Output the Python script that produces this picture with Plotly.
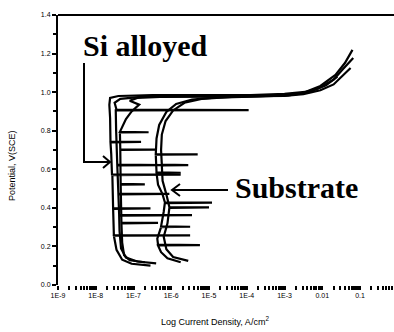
import numpy as np
import plotly.graph_objects as go

# ---- data: log10 current density (A/cm2) and potential (V vs SCE) ----
si1_logi = [-6.55, -7.05, -7.30, -7.45, -7.50, -7.52, -5.50, -7.52, -7.54, -6.55, -7.54, -7.56, -5.75,
            -7.57, -7.59, -7.61, -6.80, -7.61, -7.62, -7.64, -7.62, -7.40, -6.50, -5.20, -3.90, -3.00,
            -2.45, -2.05, -1.65, -1.40, -1.20]
si1_E = [0.100, 0.110, 0.131, 0.182, 0.235, 0.255, 0.257, 0.259, 0.395, 0.397, 0.399, 0.570, 0.572,
         0.574, 0.680, 0.740, 0.742, 0.744, 0.866, 0.934, 0.970, 0.980, 0.985, 0.985, 0.985, 0.991,
         1.001, 1.032, 1.089, 1.151, 1.219]

si2_logi = [-6.40, -6.90, -7.20, -7.33, -7.37, -7.38, -5.45, -7.38, -7.40, -6.05, -7.40, -7.43, -6.20,
            -7.43, -7.46, -7.47, -3.95, -7.45, -7.50, -7.35, -6.80, -5.60, -4.20, -3.10, -2.55, -2.10,
            -1.70, -1.45, -1.18]
si2_E = [0.112, 0.122, 0.142, 0.190, 0.280, 0.360, 0.362, 0.364, 0.470, 0.472, 0.474, 0.620, 0.622,
         0.624, 0.800, 0.905, 0.907, 0.909, 0.945, 0.965, 0.975, 0.980, 0.982, 0.985, 0.995, 1.020,
         1.065, 1.120, 1.177]

si3_logi = [-6.70, -7.10, -7.25, -7.30, -7.32, -6.35, -7.32, -7.34, -6.70, -7.34, -7.35, -6.40, -7.35,
            -7.36, -6.60, -7.36, -7.20, -7.05, -6.85, -7.10, -6.90, -6.30, -5.00, -3.80, -3.00, -2.50,
            -2.05, -1.70, -1.45, -1.25]
si3_E = [0.118, 0.128, 0.155, 0.220, 0.320, 0.322, 0.324, 0.520, 0.522, 0.524, 0.700, 0.702, 0.704,
         0.790, 0.792, 0.794, 0.860, 0.900, 0.935, 0.955, 0.970, 0.975, 0.976, 0.978, 0.980, 0.990,
         1.010, 1.040, 1.085, 1.125]

sub1_logi = [-5.75, -6.10, -6.27, -6.35, -5.24, -6.35, -6.37, -6.27, -5.50, -6.27, -6.20, -6.17, -4.92,
             -6.17, -6.23, -6.35, -6.39, -5.75, -6.39, -6.41, -5.30, -6.41, -6.39, -6.32, -6.13, -5.87,
             -5.45, -4.84, -3.65, -2.90, -2.35, -1.90, -1.60]
sub1_E = [0.118, 0.138, 0.170, 0.205, 0.207, 0.209, 0.240, 0.300, 0.302, 0.304, 0.380, 0.425, 0.427,
          0.429, 0.470, 0.520, 0.580, 0.582, 0.584, 0.675, 0.677, 0.679, 0.760, 0.830, 0.897, 0.939,
          0.962, 0.972, 0.978, 0.983, 1.000, 1.035, 1.080]

sub2_logi = [-5.55, -5.95, -6.13, -6.20, -6.10, -6.05, -5.00, -6.05, -6.13, -6.23, -6.25, -5.55, -6.25,
             -6.27, -6.25, -6.15, -5.95, -5.65, -5.20, -4.40, -3.50]
sub2_E = [0.125, 0.145, 0.185, 0.250, 0.320, 0.400, 0.402, 0.404, 0.470, 0.540, 0.620, 0.622, 0.624,
          0.700, 0.780, 0.850, 0.905, 0.945, 0.965, 0.975, 0.980]

x_tick_vals = [1e-9, 1e-8, 1e-7, 1e-6, 1e-5, 1e-4, 1e-3, 1e-2, 1e-1]
x_tick_text = ["1E-9", "1E-8", "1E-7", "1E-6", "1E-5", "1E-4", "1E-3", "0.01", "0.1"]
y_tick_vals = [0.0, 0.2, 0.4, 0.6, 0.8, 1.0, 1.2, 1.4]
y_tick_text = ["0.0", "0.2", "0.4", "0.6", "0.8", "1.0", "1.2", "1.4"]

curves = [(si1_logi, si1_E), (si2_logi, si2_E), (si3_logi, si3_E),
          (sub1_logi, sub1_E), (sub2_logi, sub2_E)]

fig = go.Figure()
for lg, e in curves:
    fig.add_trace(go.Scatter(x=10 ** np.array(lg), y=e, mode="lines",
                             line=dict(color="black", width=2.2), showlegend=False,
                             hoverinfo="skip"))

# log ticks (labelled decades + unlabelled minor ticks)
all_vals, all_text = [], []
for d in range(-9, 0):
    for m in range(1, 10):
        all_vals.append(m * 10.0 ** d)
        all_text.append(x_tick_text[d + 9] if m == 1 else "")

W0, H0 = 394, 332
L, R, T, B = 58, 0, 15, 47
pw, ph = W0 - L - R, H0 - T - B


def px(x):
    return (x - L) / pw


def py(y):
    return (H0 - B - y) / ph


SERIF = "Liberation Serif, Times New Roman, serif"

fig.update_layout(
    width=W0, height=H0,
    margin=dict(l=L, r=R, t=T, b=B),
    paper_bgcolor="white", plot_bgcolor="white",
    font=dict(family="Liberation Sans", color="black", size=7),
    xaxis=dict(type="log", range=[-9, -0.1], tickvals=all_vals, ticktext=all_text,
               ticks="outside", ticklen=4, tickwidth=1.5, tickcolor="black",
               showgrid=False, zeroline=False, showline=False,
               tickfont=dict(size=7, family="Liberation Sans")),
    yaxis=dict(range=[0.0, 1.4], tickvals=y_tick_vals, ticktext=y_tick_text,
               ticks="outside", ticklen=4, tickwidth=1.5, tickcolor="black",
               minor=dict(dtick=0.1, ticks="outside", ticklen=3, tickcolor="black"),
               showgrid=False, zeroline=False, showline=True, linecolor="black", linewidth=2,
               tickfont=dict(size=7, family="Liberation Sans")),
)

shapes = [
    dict(type="line", xref="paper", yref="paper", x0=0, x1=1, y0=1, y1=1,
         line=dict(color="black", width=2)),
    # Si alloyed arrow
    dict(type="path", xref="paper", yref="paper",
         path=f"M {px(84)} {py(63)} L {px(84)} {py(162)} L {px(110)} {py(162)}",
         line=dict(color="black", width=2)),
    dict(type="path", xref="paper", yref="paper",
         path=f"M {px(103)} {py(156)} L {px(110)} {py(162)} L {px(103)} {py(168)}",
         line=dict(color="black", width=2)),
    # Substrate arrow
    dict(type="path", xref="paper", yref="paper",
         path=f"M {px(228)} {py(190)} L {px(172)} {py(190)}",
         line=dict(color="black", width=2)),
    dict(type="path", xref="paper", yref="paper",
         path=f"M {px(180)} {py(184)} L {px(172)} {py(190)} L {px(180)} {py(196)}",
         line=dict(color="black", width=2)),
]
fig.update_layout(shapes=shapes)

annotations = [
    dict(text="<b>Si alloyed</b>", x=px(145), y=py(45), xref="paper", yref="paper",
         xanchor="center", yanchor="middle",
         showarrow=False, font=dict(family=SERIF, size=30, color="black")),
    dict(text="<b>Substrate</b>", x=px(296), y=py(187), xref="paper", yref="paper",
         xanchor="center", yanchor="middle",
         showarrow=False, font=dict(family=SERIF, size=30, color="black")),
    dict(text="Potential, V(SCE)", x=px(12), y=py(165), xref="paper", yref="paper",
         xanchor="center", yanchor="middle",
         showarrow=False, textangle=-90, font=dict(family="Liberation Sans", size=9, color="black")),
    dict(text="Log Current Density, A/cm<sup>2</sup>", x=px(215), y=py(321), xref="paper", yref="paper",
         xanchor="center", yanchor="middle",
         showarrow=False, font=dict(family="Liberation Sans", size=9, color="black")),
]
fig.update_layout(annotations=annotations)

fig.write_html("out.html")
